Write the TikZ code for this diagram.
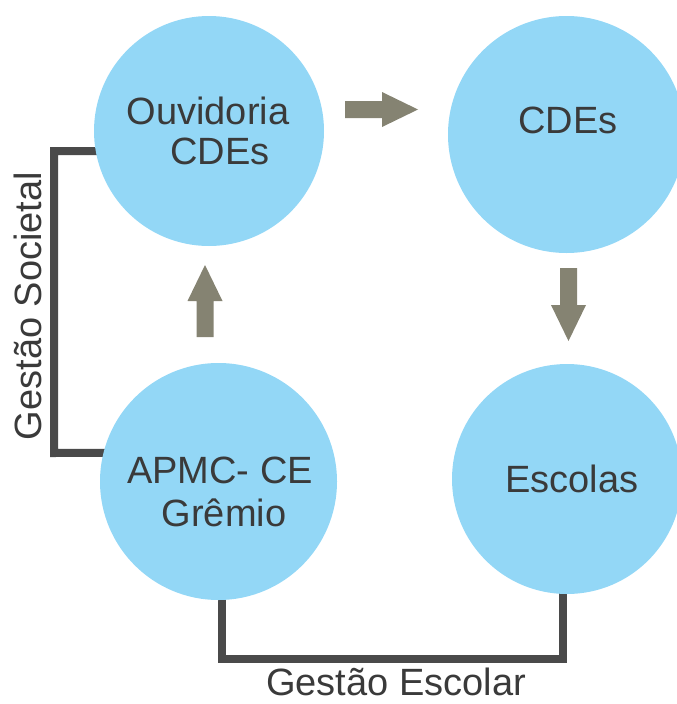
\documentclass[tikz,border=0pt]{standalone}
\usepackage{fontspec}
\setmainfont{Liberation Sans}
\usetikzlibrary{backgrounds}
\definecolor{circ}{HTML}{93D7F6}
\definecolor{arr}{HTML}{858372}
\definecolor{brk}{HTML}{4A4A4A}
\definecolor{txt}{HTML}{3A3A3A}
\begin{document}
\begin{tikzpicture}[x=1pt,y=-1pt,
  bubble/.style={circle,fill=circ,draw=none,inner sep=0pt},
  lbl/.style={text=txt,font=\fontsize{38}{40}\selectfont,anchor=base,inner sep=0pt},
  bracket/.style={draw=brk,line width=8pt,line join=miter},
  blockarrow/.style={fill=arr}]
\useasboundingbox (0,0) rectangle (677,704);
\clip (0,0) rectangle (677,704);
\node[bubble,minimum size=230pt] (ouv) at (209,131) {};
\node[bubble,minimum size=237pt] (cde) at (566.5,134.5) {};
\node[bubble,minimum size=237pt] (apmc) at (218.5,481.5) {};
\node[bubble,minimum size=230pt] (esc) at (567,479) {};

\node[lbl] (t1) at (208,124) {Ouvidoria};
\node[lbl] (t2) at (220,164) {CDEs};
\node[lbl] (t3) at (568,133) {CDEs};
\node[lbl] (t4) at (220,483) {APMC- CE};
\node[lbl] (t5) at (224,526) {Grêmio};
\node[lbl] (t6) at (572,492) {Escolas};
\node[lbl,rotate=90] (t7) at (41,306) {Gestão Societal};
\node[lbl] (t8) at (396,695) {Gestão Escolar};

\coordinate (ab) at ([xshift=3.5pt]apmc.south);
\coordinate (eb) at ([xshift=-4pt]esc.south);
\begin{scope}[on background layer]
  \draw[bracket] ([xshift=20pt]ouv.190.5) -| (54,453) -- ([xshift=20pt]apmc.166.3);
  \draw[bracket] ([yshift=15pt]ab) |- (eb |- 0,659) -- ([yshift=15pt]eb);
\end{scope}

\fill[blockarrow] (345,101) -- (382,101) -- (382,92) -- (418,109.5) -- (382,127) -- (382,118) -- (345,118) -- cycle;
\fill[blockarrow] (196.5,337) -- (196.5,301) -- (187.5,301) -- (205,265) -- (222.5,301) -- (213.5,301) -- (213.5,337) -- cycle;
\fill[blockarrow] (560,268) -- (577,268) -- (577,305) -- (586,305) -- (568.5,341) -- (551,305) -- (560,305) -- cycle;
\end{tikzpicture}
\end{document}
